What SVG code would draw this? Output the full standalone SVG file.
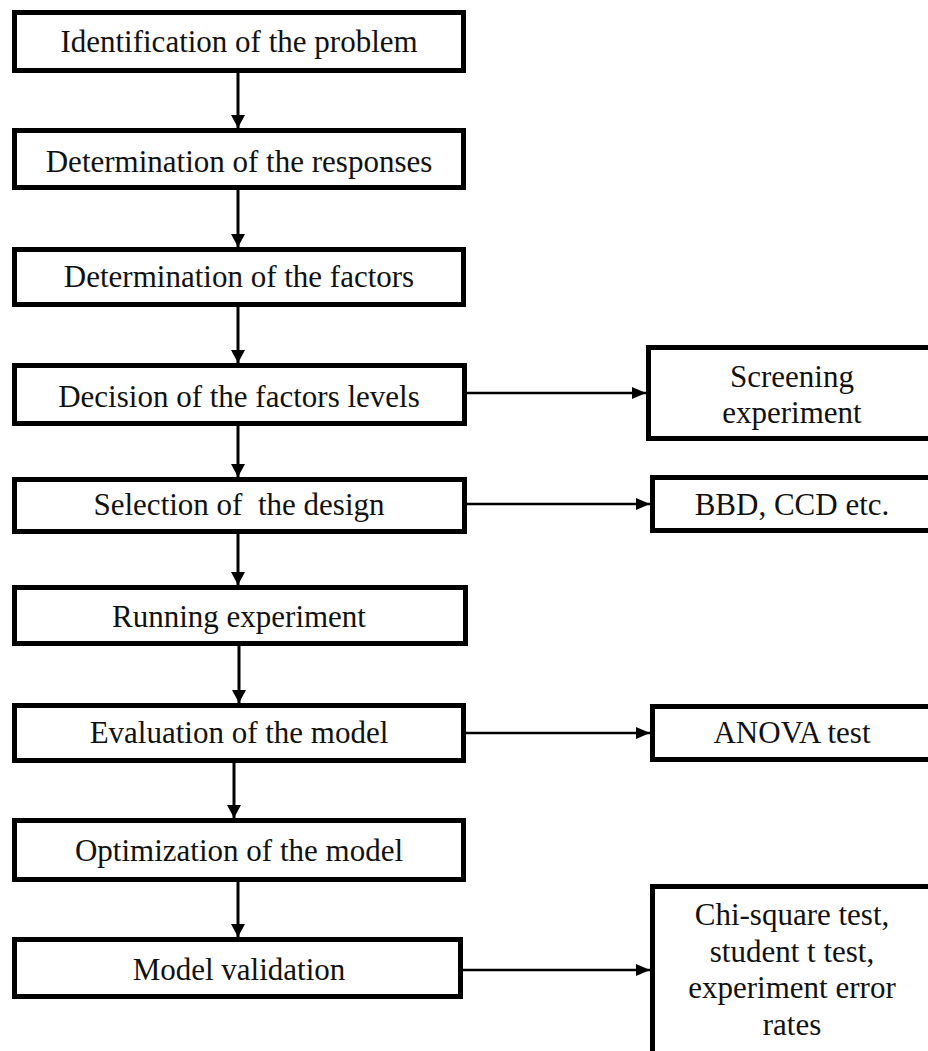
<svg xmlns="http://www.w3.org/2000/svg" width="928" height="1051" viewBox="0 0 928 1051">
<defs>
<style>
.box{fill:#fff;stroke:#000;stroke-width:5}
.t{font-family:'Liberation Serif','Times New Roman',serif;font-size:31px;fill:#111;text-anchor:middle;white-space:pre}
.v{stroke:#000;stroke-width:3;fill:none;marker-end:url(#ah)}
.h{stroke:#000;stroke-width:2.5;fill:none;marker-end:url(#ah2)}
</style>
<marker id="ah" markerUnits="userSpaceOnUse" markerWidth="14" markerHeight="14" refX="13" refY="7" orient="auto"><path d="M0,0 L13,7 L0,14 z" fill="#000"/></marker>
<marker id="ah2" markerUnits="userSpaceOnUse" markerWidth="14" markerHeight="12" refX="14" refY="6" orient="auto"><path d="M0,0 L14,6 L0,12 z" fill="#000"/></marker>
</defs>
<rect width="928" height="1051" fill="#fff"/>
<g id="connectors">
<line class="v" x1="238" y1="73" x2="238" y2="128"/>
<line class="v" x1="238" y1="190" x2="238" y2="247"/>
<line class="v" x1="238" y1="307" x2="238" y2="363"/>
<line class="v" x1="238" y1="426" x2="238" y2="477"/>
<line class="v" x1="238" y1="534" x2="238" y2="585"/>
<line class="v" x1="239" y1="646" x2="239" y2="703"/>
<line class="v" x1="234" y1="763" x2="234" y2="818"/>
<line class="v" x1="238" y1="882" x2="238" y2="937"/>
<line class="h" x1="466" y1="393" x2="646" y2="393"/>
<line class="h" x1="466" y1="504" x2="650" y2="504"/>
<line class="h" x1="466" y1="733" x2="650" y2="733"/>
<line class="h" x1="463" y1="970" x2="650" y2="970"/>
</g>
<g id="n1"><rect class="box" x="14.5" y="12.5" width="449" height="58"/><text class="t" x="239" y="52">Identification of the problem</text></g>
<g id="n2"><rect class="box" x="14.5" y="130.5" width="449" height="57"/><text class="t" x="239" y="172">Determination of the responses</text></g>
<g id="n3"><rect class="box" x="14.5" y="249.5" width="449" height="55"/><text class="t" x="239" y="287">Determination of the factors</text></g>
<g id="n4"><rect class="box" x="14.5" y="365.5" width="450" height="58"/><text class="t" x="239" y="407">Decision of the factors levels</text></g>
<g id="n5"><rect class="box" x="14.5" y="479.5" width="450" height="52"/><text class="t" x="239" y="515">Selection of  the design</text></g>
<g id="n6"><rect class="box" x="14.5" y="587.5" width="451" height="56"/><text class="t" x="239" y="627">Running experiment</text></g>
<g id="n7"><rect class="box" x="14.5" y="705.5" width="449" height="55"/><text class="t" x="239" y="743">Evaluation of the model</text></g>
<g id="n8"><rect class="box" x="14.5" y="820.5" width="449" height="59"/><text class="t" x="239" y="861">Optimization of the model</text></g>
<g id="n9"><rect class="box" x="14.5" y="939.5" width="446" height="57"/><text class="t" x="239" y="980">Model validation</text></g>
<g id="r1"><rect class="box" x="648.5" y="347.5" width="290" height="91"/><text class="t" x="792" y="387">Screening</text><text class="t" x="792" y="423">experiment</text></g>
<g id="r2"><rect class="box" x="652.5" y="477.5" width="290" height="53"/><text class="t" x="792" y="515">BBD, CCD etc.</text></g>
<g id="r3"><rect class="box" x="652.5" y="706.5" width="290" height="53"/><text class="t" x="792" y="743">ANOVA test</text></g>
<g id="r4"><rect class="box" x="652.5" y="886.5" width="290" height="200"/><text class="t" x="792" y="925">Chi-square test,</text><text class="t" x="792" y="962">student t test,</text><text class="t" x="792" y="998">experiment error</text><text class="t" x="792" y="1035">rates</text></g>
</svg>
